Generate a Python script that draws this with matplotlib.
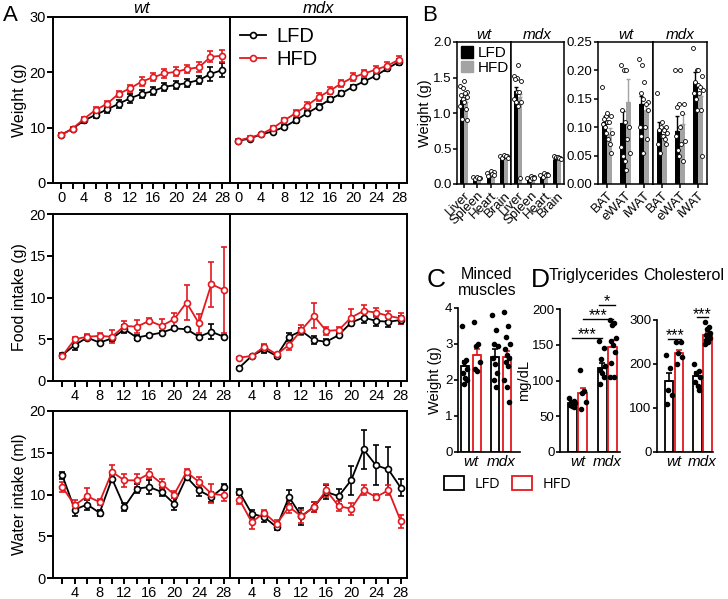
import matplotlib
matplotlib.use("Agg")
import matplotlib.pyplot as plt
import numpy as np
from matplotlib.lines import Line2D
from matplotlib.patches import Patch

plt.rcParams["font.family"] = ["Liberation Sans", "DejaVu Sans"]

RED = "#e3191f"
GREY = "#a3a3a3"

# ---------------- Panel A: body weight, food and water intake ----------------
weeks_weight = np.arange(0, 29, 2)
weeks_intake = np.arange(2, 29, 2)

weight_wt_lfd = [8.7, 9.8, 11.3, 12.3, 13.3, 14.3, 15.3, 16.1, 16.6, 17.4, 17.7, 18.1, 18.6, 19.7, 20.4]
weight_wt_lfd_err = [0.4, 0.3, 0.4, 0.5, 0.6, 0.7, 0.8, 0.7, 0.7, 0.7, 0.7, 0.7, 0.7, 1.3, 1.2]
weight_wt_hfd = [8.7, 9.8, 11.6, 13.2, 14.3, 16.1, 17.1, 18.3, 19.1, 19.8, 20.1, 20.6, 20.9, 22.8, 23.0]
weight_wt_hfd_err = [0.4, 0.3, 0.4, 0.5, 0.5, 0.6, 0.7, 0.8, 0.7, 0.8, 0.8, 0.8, 0.9, 1.0, 1.1]
weight_mdx_lfd = [7.65, 8.0, 8.8, 9.3, 10.1, 11.3, 12.6, 13.8, 15.1, 16.2, 17.4, 18.4, 19.4, 20.7, 21.9]
weight_mdx_lfd_err = [0.2, 0.2, 0.3, 0.3, 0.4, 0.4, 0.4, 0.4, 0.4, 0.4, 0.4, 0.4, 0.5, 0.5, 0.6]
weight_mdx_hfd = [7.65, 8.2, 8.8, 9.9, 11.3, 12.6, 14.0, 15.5, 16.7, 18.0, 19.1, 19.8, 20.5, 21.2, 22.3]
weight_mdx_hfd_err = [0.3, 0.3, 0.3, 0.4, 0.5, 0.6, 0.7, 0.7, 0.7, 0.7, 0.7, 0.6, 0.6, 0.6, 0.7]

food_wt_lfd = [3.1, 4.3, 5.2, 4.6, 5.1, 6.2, 5.2, 5.5, 5.8, 6.3, 6.2, 5.3, 5.9, 5.3]
food_wt_lfd_err = [0.3, 0.6, 0.3, 0.2, 0.3, 0.5, 0.3, 0.1, 0.2, 0.2, 0.1, 0.2, 0.9, 0.2]
food_wt_hfd = [3.0, 5.0, 5.3, 5.4, 5.3, 6.6, 6.5, 7.2, 6.6, 7.4, 9.4, 6.9, 11.6, 10.9]
food_wt_hfd_err = [0.3, 0.3, 0.3, 0.4, 0.8, 0.6, 0.8, 0.3, 0.8, 0.8, 2.1, 1.1, 2.7, 5.1]
food_mdx_lfd = [1.6, 3.0, 3.8, 3.0, 5.3, 6.0, 4.9, 4.7, 5.5, 7.0, 7.6, 7.2, 7.1, 7.3]
food_mdx_lfd_err = [0.1, 0.1, 0.5, 0.2, 0.5, 0.3, 0.5, 0.3, 0.2, 0.3, 0.6, 0.6, 0.6, 0.5]
food_mdx_hfd = [2.8, 3.0, 4.1, 3.2, 4.3, 6.1, 7.8, 6.0, 6.1, 7.6, 8.4, 8.2, 7.8, 7.5]
food_mdx_hfd_err = [0.1, 0.1, 0.3, 0.2, 0.6, 0.6, 1.5, 0.5, 0.4, 1.0, 0.7, 0.5, 0.6, 0.7]

water_wt_lfd = [12.3, 8.2, 8.8, 7.8, 11.9, 8.5, 10.7, 10.9, 10.3, 8.9, 12.1, 10.5, 9.7, 10.9]
water_wt_lfd_err = [0.4, 0.8, 0.6, 0.4, 0.4, 0.5, 0.5, 0.8, 0.5, 0.7, 0.3, 0.7, 0.6, 0.4]
water_wt_hfd = [10.9, 8.7, 9.8, 9.1, 12.7, 11.7, 11.7, 12.5, 11.3, 10.0, 12.7, 11.5, 10.1, 9.9]
water_wt_hfd_err = [0.6, 0.7, 1.0, 0.4, 0.8, 0.8, 0.8, 0.5, 0.6, 0.4, 0.4, 0.6, 1.1, 0.7]
water_mdx_lfd = [10.3, 7.7, 7.3, 6.1, 9.7, 7.4, 8.5, 10.3, 9.8, 11.7, 15.4, 13.5, 13.0, 10.8]
water_mdx_lfd_err = [0.3, 0.5, 0.6, 0.4, 0.8, 1.0, 0.6, 0.8, 0.9, 1.7, 2.3, 2.4, 2.7, 1.0]
water_mdx_hfd = [9.4, 6.7, 7.8, 6.5, 8.5, 7.4, 8.5, 10.5, 8.6, 8.3, 10.5, 9.7, 10.5, 6.8]
water_mdx_hfd_err = [0.5, 0.8, 0.4, 0.5, 0.7, 0.8, 0.6, 0.8, 0.6, 0.7, 0.6, 0.4, 0.6, 0.8]

# ---------------- Panel B: organ and fat pad weights ----------------
organs = ["Liver", "Spleen", "Heart", "Brain"]
organ_wt_lfd = [1.18, 0.08, 0.12, 0.37]
organ_wt_lfd_err = [0.07, 0.01, 0.01, 0.01]
organ_wt_hfd = [1.16, 0.09, 0.15, 0.39]
organ_wt_hfd_err = [0.06, 0.01, 0.02, 0.01]
organ_mdx_lfd = [1.31, 0.07, 0.10, 0.34]
organ_mdx_lfd_err = [0.06, 0.01, 0.01, 0.01]
organ_mdx_hfd = [1.22, 0.09, 0.12, 0.36]
organ_mdx_hfd_err = [0.05, 0.01, 0.01, 0.01]
organ_wt_lfd_pts = [[1.38, 1.35, 1.25, 1.2, 1.1, 0.92], [0.1, 0.08, 0.07], [0.15, 0.13, 0.11], [0.39, 0.38, 0.37]]
organ_wt_hfd_pts = [[1.45, 1.3, 1.28, 1.22, 1.15, 1.05, 0.9], [0.1, 0.09, 0.08], [0.18, 0.17, 0.14, 0.12], [0.41, 0.40, 0.39, 0.37]]
organ_mdx_lfd_pts = [[1.52, 1.5, 1.48, 1.3, 1.2, 1.15], [0.08, 0.06], [0.12, 0.1], [0.40, 0.38]]
organ_mdx_hfd_pts = [[1.68, 1.45, 1.3, 1.15, 1.1, 0.08], [0.11, 0.1, 0.09, 0.08], [0.15, 0.14, 0.13, 0.12], [0.38, 0.37, 0.36, 0.35]]

fats = ["BAT", "eWAT", "iWAT"]
fat_wt_lfd = [0.110, 0.107, 0.140]
fat_wt_lfd_err = [0.010, 0.022, 0.015]
fat_wt_hfd = [0.088, 0.145, 0.130]
fat_wt_hfd_err = [0.010, 0.040, 0.010]
fat_mdx_lfd = [0.095, 0.094, 0.180]
fat_mdx_lfd_err = [0.015, 0.026, 0.018]
fat_mdx_hfd = [0.088, 0.105, 0.155]
fat_mdx_hfd_err = [0.008, 0.018, 0.015]
fat_wt_lfd_pts = [[0.17, 0.12, 0.115, 0.11, 0.105, 0.10, 0.09], [0.21, 0.2, 0.13, 0.11, 0.065, 0.05, 0.04], [0.22, 0.21, 0.16, 0.15, 0.1, 0.085, 0.055]]
fat_wt_hfd_pts = [[0.125, 0.12, 0.11, 0.09, 0.08, 0.07, 0.055], [0.2, 0.1, 0.08, 0.055, 0.025], [0.18, 0.145, 0.14, 0.13, 0.1, 0.08]]
fat_mdx_lfd_pts = [[0.16, 0.1, 0.095, 0.085, 0.07, 0.055], [0.2, 0.14, 0.135, 0.1, 0.085, 0.06, 0.05], [0.24, 0.2, 0.18, 0.175, 0.16, 0.15, 0.13]]
fat_mdx_hfd_pts = [[0.11, 0.1, 0.095, 0.09, 0.085, 0.08, 0.07], [0.2, 0.14, 0.125, 0.075, 0.07, 0.04], [0.2, 0.19, 0.17, 0.165, 0.16, 0.13, 0.05]]

# ---------------- Panels C and D ----------------
genotypes = ["wt", "mdx"]
muscle_lfd = [2.39, 2.63]
muscle_lfd_err = [0.15, 0.22]
muscle_hfd = [2.70, 2.63]
muscle_hfd_err = [0.17, 0.17]
muscle_lfd_pts = [[3.5, 2.55, 2.5, 2.3, 2.2, 2.05, 2.0, 1.9], [3.8, 3.4, 3.0, 2.95, 2.6, 2.45, 2.2, 2.0, 1.8]]
muscle_hfd_pts = [[3.6, 3.0, 2.95, 2.5, 2.3, 2.25], [3.9, 3.5, 3.2, 3.0, 2.85, 2.7, 2.6, 2.5, 2.4, 2.0, 1.8, 1.4]]

tg_lfd = [68, 118]
tg_lfd_err = [2, 7]
tg_hfd = [82, 147]
tg_hfd_err = [8, 10]
tg_lfd_pts = [[75, 72, 70, 68, 66, 65, 63], [155, 145, 130, 120, 115, 110, 105, 95]]
tg_hfd_pts = [[115, 85, 82, 70, 60], [185, 180, 178, 160, 155, 150, 140, 125, 105, 105]]

chol_lfd = [162, 172]
chol_lfd_err = [18, 10]
chol_hfd = [224, 266]
chol_hfd_err = [8, 6]
chol_lfd_pts = [[220, 190, 140, 130, 110], [200, 185, 180, 170, 160, 150, 140]]
chol_hfd_pts = [[250, 250, 225, 215, 200], [295, 285, 280, 270, 265, 265, 260, 255, 250, 245]]

W, H = 728, 599
fig = plt.figure(figsize=(W / 100, H / 100), dpi=100)


def px_axes(x0, y0, x1, y1, **kw):
    return fig.add_axes([x0 / W, 1 - y1 / H, (x1 - x0) / W, (y1 - y0) / H], **kw)


def style(ax, lw=1.2, size=10.5, length=4):
    for s in ax.spines.values():
        s.set_linewidth(lw)
    ax.tick_params(direction="out", length=length, width=lw, labelsize=size)


def spread(n, half):
    pattern = np.array([-1.0, 0.5, -0.3, 0.9, -0.7, 0.1, 0.7, -0.5, 0.3, -0.9, 0.0, 0.6])
    return np.resize(pattern, n) * half


def draw_time(ax, x, lfd, lfd_err, hfd, hfd_err):
    for y, e, c in ((lfd, lfd_err, "black"), (hfd, hfd_err, RED)):
        ax.errorbar(x, y, yerr=e, color=c, marker="o", ms=4.3, mfc="white",
                    mec=c, mew=1.2, lw=1.3, elinewidth=1.2, capsize=2.5,
                    capthick=1.2)


rows = [
    (17, 183, weeks_weight, (weight_wt_lfd, weight_wt_lfd_err, weight_wt_hfd, weight_wt_hfd_err),
     (weight_mdx_lfd, weight_mdx_lfd_err, weight_mdx_hfd, weight_mdx_hfd_err),
     30, [0, 10, 20, 30], "Weight (g)", (-1.4, 29.4)),
    (214, 381, weeks_intake, (food_wt_lfd, food_wt_lfd_err, food_wt_hfd, food_wt_hfd_err),
     (food_mdx_lfd, food_mdx_lfd_err, food_mdx_hfd, food_mdx_hfd_err),
     20, [0, 5, 10, 15, 20], "Food intake (g)", (0.5, 29)),
    (411, 578, weeks_intake, (water_wt_lfd, water_wt_lfd_err, water_wt_hfd, water_wt_hfd_err),
     (water_mdx_lfd, water_mdx_lfd_err, water_mdx_hfd, water_mdx_hfd_err),
     20, [0, 5, 10, 15, 20], "Water intake (ml)", (0.5, 29)),
]

for i, (top, bottom, weeks, wt_data, mdx_data, ymax, yticks, ylabel, xlim) in enumerate(rows):
    ax_wt = px_axes(53, top, 230, bottom)
    ax_mdx = px_axes(230, top, 407, bottom, sharey=ax_wt)
    draw_time(ax_wt, weeks, *wt_data)
    draw_time(ax_mdx, weeks, *mdx_data)
    ticks = np.arange(weeks[0], 29, 2)
    labels = [str(t) if t % 4 == 0 else "" for t in ticks]
    for ax in (ax_wt, ax_mdx):
        style(ax, lw=1.4)
        ax.set_xlim(*xlim)
        ax.set_xticks(ticks)
        ax.set_xticklabels(labels)
        ax.tick_params(axis="x", pad=2)
    ax_wt.set_ylim(0, ymax)
    ax_wt.set_yticks(yticks)
    ax_wt.set_ylabel(ylabel, fontsize=11.5, labelpad=2)
    ax_wt.tick_params(axis="y", pad=1)
    ax_mdx.tick_params(axis="y", left=False, labelleft=False)
    if i == 0:
        ax_wt.set_title("wt", style="italic", fontsize=12, pad=3)
        ax_mdx.set_title("mdx", style="italic", fontsize=12, pad=3)
        handles = [Line2D([], [], color=c, marker="o", ms=4.3, mfc="white", mec=c,
                          mew=1.2, lw=1.3) for c in ("black", RED)]
        ax_mdx.legend(handles, ["LFD", "HFD"], loc="upper left", frameon=False,
                      fontsize=14.5, handlelength=1.3, handletextpad=0.5,
                      labelspacing=0.2, borderaxespad=0.3, borderpad=0.2)

fig.text(3 / W, 1 - 5 / H, "A", fontsize=16, va="top", ha="left")


# ---------------- Panel B ----------------
def draw_pair(ax, cats, lfd, lfd_err, hfd, hfd_err, lfd_pts, hfd_pts, width):
    x = np.arange(len(cats))
    zeros = np.zeros(len(cats))
    ax.bar(x - width / 2, lfd, width, color="black", yerr=[zeros, lfd_err],
           error_kw=dict(ecolor="black", elinewidth=1, capsize=1.5, capthick=1))
    ax.bar(x + width / 2, hfd, width, color=GREY, yerr=[zeros, hfd_err],
           error_kw=dict(ecolor=GREY, elinewidth=1, capsize=1.5, capthick=1))
    for j in range(len(cats)):
        for pts, shift in ((lfd_pts[j], -width / 2), (hfd_pts[j], width / 2)):
            ax.scatter(x[j] + shift + spread(len(pts), width * 0.45), pts, s=8,
                       facecolor="white", edgecolor="black", linewidths=0.6,
                       zorder=3, clip_on=False)
    ax.set_xlim(-0.5, len(cats) - 0.5)
    ax.set_xticks(x)
    ax.set_xticklabels(cats, rotation=45, ha="right", rotation_mode="anchor",
                       fontsize=9.5)


b1_wt = px_axes(457, 42, 511, 184)
b1_mdx = px_axes(511, 42, 564, 184, sharey=b1_wt)
b2_wt = px_axes(598, 42, 653, 184)
b2_mdx = px_axes(653, 42, 707, 184, sharey=b2_wt)

draw_pair(b1_wt, organs, organ_wt_lfd, organ_wt_lfd_err, organ_wt_hfd, organ_wt_hfd_err,
          organ_wt_lfd_pts, organ_wt_hfd_pts, 0.3)
draw_pair(b1_mdx, organs, organ_mdx_lfd, organ_mdx_lfd_err, organ_mdx_hfd, organ_mdx_hfd_err,
          organ_mdx_lfd_pts, organ_mdx_hfd_pts, 0.3)
draw_pair(b2_wt, fats, fat_wt_lfd, fat_wt_lfd_err, fat_wt_hfd, fat_wt_hfd_err,
          fat_wt_lfd_pts, fat_wt_hfd_pts, 0.28)
draw_pair(b2_mdx, fats, fat_mdx_lfd, fat_mdx_lfd_err, fat_mdx_hfd, fat_mdx_hfd_err,
          fat_mdx_lfd_pts, fat_mdx_hfd_pts, 0.28)

for ax, name in ((b1_wt, "wt"), (b1_mdx, "mdx"), (b2_wt, "wt"), (b2_mdx, "mdx")):
    style(ax, lw=1.1, size=9.5, length=3)
    ax.tick_params(axis="x", labelsize=9.5, pad=1)
    ax.set_title(name, style="italic", fontsize=11, pad=1)
for ax in (b1_mdx, b2_mdx):
    ax.tick_params(axis="y", left=False, labelleft=False)

b1_ticks = [0.0, 0.5, 1.0, 1.5, 2.0]
b1_wt.set_ylim(0, 2.0)
b1_wt.set_yticks(b1_ticks)
b1_wt.set_yticklabels([f"{t:.1f}" for t in b1_ticks])
b1_wt.set_ylabel("Weight (g)", fontsize=10.5, labelpad=1)
b1_wt.tick_params(axis="y", pad=1)
b2_ticks = [0.0, 0.05, 0.10, 0.15, 0.20, 0.25]
b2_wt.set_ylim(0, 0.25)
b2_wt.set_yticks(b2_ticks)
b2_wt.set_yticklabels([f"{t:.2f}" for t in b2_ticks])
b2_wt.tick_params(axis="y", pad=1)
b1_wt.legend(handles=[Patch(color="black"), Patch(color=GREY)], labels=["LFD", "HFD"],
             loc="upper left", frameon=False, fontsize=11, handlelength=0.8,
             handleheight=0.8, handletextpad=0.3, labelspacing=0.05,
             borderaxespad=0.15, borderpad=0.1)
fig.text(422 / W, 1 - 5 / H, "B", fontsize=16, va="top", ha="left")


# ---------------- Panels C and D ----------------
def draw_groups(ax, lfd, lfd_err, hfd, hfd_err, lfd_pts, hfd_pts, offset, width):
    x = np.arange(len(genotypes))
    zeros = np.zeros(len(genotypes))
    for vals, err, pts, c, shift in ((lfd, lfd_err, lfd_pts, "black", -offset),
                                     (hfd, hfd_err, hfd_pts, RED, offset)):
        ax.bar(x + shift, vals, width, facecolor="white", edgecolor=c, linewidth=1.3,
               yerr=[zeros, err], error_kw=dict(ecolor=c, elinewidth=1.2, capsize=2.5,
                                                capthick=1.2))
        for j in range(len(genotypes)):
            ax.scatter(x[j] + shift + spread(len(pts[j]), width * 0.35), pts[j], s=9,
                       color="black", zorder=3, clip_on=False)
    ax.set_xticks(x)
    ax.set_xticklabels(genotypes, style="italic", fontsize=11)
    ax.spines[["top", "right"]].set_visible(False)
    style(ax, lw=1.2, size=9.5, length=3)
    ax.tick_params(axis="x", length=0, labelsize=11, pad=2)
    ax.tick_params(axis="y", pad=1)


def sig(ax, x1, x2, y, text):
    ax.plot([x1, x2], [y, y], color="black", lw=1.0, clip_on=False)
    ax.annotate(text, ((x1 + x2) / 2, y), xytext=(0, -1.0), textcoords="offset points",
                ha="center", va="baseline", fontsize=11.5, annotation_clip=False)


ax_c = px_axes(458, 308, 520, 452)
draw_groups(ax_c, muscle_lfd, muscle_lfd_err, muscle_hfd, muscle_hfd_err,
            muscle_lfd_pts, muscle_hfd_pts, 0.2, 0.27)
ax_c.set_xlim(-0.43, 1.63)
ax_c.set_ylim(0, 4)
ax_c.set_yticks([0, 1, 2, 3, 4])
ax_c.set_ylabel("Weight (g)", fontsize=10.5, labelpad=2)

ax_tg = px_axes(560, 309, 620, 452)
draw_groups(ax_tg, tg_lfd, tg_lfd_err, tg_hfd, tg_hfd_err, tg_lfd_pts, tg_hfd_pts, 0.18, 0.3)
ax_tg.set_xlim(-0.58, 1.42)
ax_tg.set_ylim(0, 200)
ax_tg.set_yticks([0, 50, 100, 150, 200])
ax_tg.set_ylabel("mg/dL", fontsize=10.5, labelpad=1)
sig(ax_tg, -0.18, 0.82, 160, "***")
sig(ax_tg, 0.18, 1.2, 186, "***")
sig(ax_tg, 0.72, 1.25, 206, "*")

ax_ch = px_axes(657, 320, 713, 452)
draw_groups(ax_ch, chol_lfd, chol_lfd_err, chol_hfd, chol_hfd_err, chol_lfd_pts, chol_hfd_pts,
            0.18, 0.3)
ax_ch.set_xlim(-0.6, 1.37)
ax_ch.set_ylim(0, 300)
ax_ch.set_yticks([0, 100, 200, 300])
sig(ax_ch, -0.2, 0.25, 257, "***")
sig(ax_ch, 0.8, 1.2, 306, "***")

fig.text(427 / W, 1 - 268 / H, "C", fontsize=19, va="top", ha="left")
fig.text(531 / W, 1 - 268 / H, "D", fontsize=19, va="top", ha="left")
fig.text(487 / W, 1 - 267 / H, "Minced\nmuscles", fontsize=11.5, va="top", ha="center",
         linespacing=1.05)
fig.text(594 / W, 1 - 268 / H, "Triglycerides", fontsize=11.5, va="top", ha="center")
fig.text(684 / W, 1 - 268 / H, "Cholesterol", fontsize=11.5, va="top", ha="center")

fig.legend(handles=[Patch(facecolor="white", edgecolor="black", linewidth=1.3),
                    Patch(facecolor="white", edgecolor=RED, linewidth=1.3)],
           labels=["LFD", "HFD"], loc="center left",
           bbox_to_anchor=(444 / W, 1 - 484 / H), ncol=2, frameon=False,
           handlelength=1.4, handleheight=1.1, handletextpad=0.7, columnspacing=0.8,
           prop={"family": "Open Sans", "size": 10.5}, borderpad=0, borderaxespad=0)

fig.savefig("out.png", dpi=100)
